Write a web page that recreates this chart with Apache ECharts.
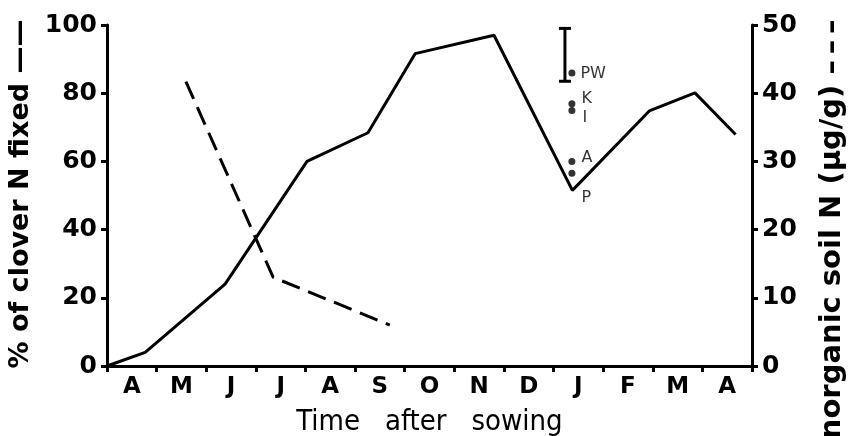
<!DOCTYPE html>
<html>
<head>
<meta charset="utf-8">
<script src="https://cdn.jsdelivr.net/npm/echarts@6/dist/echarts.min.js"></script>
<style>
  html, body { margin: 0; padding: 0; background: #fff; }
  #main { width: 850px; height: 436px; }
</style>
</head>
<body>
<div id="main"></div>
<script>
// months after sowing (April .. April)
var months = ['A', 'M', 'J', 'J', 'A', 'S', 'O', 'N', 'D', 'J', 'F', 'M', 'A'];

// % of clover N fixed (solid line), time in months from start of April
var cloverTime = [0, 0.77, 2.38, 4.03, 5.26, 6.21, 7.8, 9.38, 10.93, 11.85, 12.67];
var cloverFixed = [0, 4, 24, 60, 68.4, 91.6, 97, 51.5, 74.8, 80.1, 67.9];

// inorganic soil N, ug/g (dashed line, right axis)
var soilTime = [1.59, 3.35, 5.7];
var soilN = [41.7, 13.0, 6.0];

// single samples in January
var sampleTime = 9.37;
var sampleNames = ['PW', 'K', 'I', 'A', 'P'];
var sampleFixed = [85.9, 76.9, 74.9, 60.0, 56.5];

// error bar next to the samples
var errTime = 9.23;
var errLow = 83.5;
var errHigh = 99.0;

var ink = '#000';
var boldFont = "'DejaVu Sans', sans-serif";
var narrowFont = "'DejaVu Sans Condensed', 'Liberation Sans Narrow', sans-serif";

// label offsets for the sample points
var labelShift = {
  PW: [3, 1],
  K: [4, -5],
  I: [5, 7],
  A: [4, -4],
  P: [4, 25]
};

function pairs(xs, ys) {
  return xs.map(function (x, i) { return [x, ys[i]]; });
}

var chart = echarts.init(document.getElementById('main'), null, { renderer: 'canvas' });

var option = {
  backgroundColor: '#fff',
  animation: false,
  grid: { left: 107, right: 98, top: 25, bottom: 70, containLabel: false, outerBoundsMode: 'none' },
  xAxis: [{
    type: 'value',
    min: 0,
    max: 13,
    interval: 1,
    axisLine: { lineStyle: { color: ink, width: 3 } },
    axisTick: { show: true, length: 6, lineStyle: { color: ink, width: 3 } },
    axisLabel: { show: false },
    splitLine: { show: false }
  }, {
    type: 'category',
    position: 'bottom',
    data: months,
    boundaryGap: true,
    axisLine: { show: false },
    axisTick: { show: false },
    axisLabel: {
      margin: 10,
      color: ink,
      fontSize: 23,
      fontWeight: 'bold',
      fontFamily: boldFont
    },
    name: 'Time   after   sowing',
    nameLocation: 'middle',
    nameGap: 42,
    nameTextStyle: {
      color: ink,
      fontSize: 29,
      fontFamily: narrowFont
    }
  }],
  yAxis: [{
    type: 'value',
    min: 0,
    max: 100,
    interval: 20,
    axisLine: { show: true, lineStyle: { color: ink, width: 3 } },
    axisTick: { show: true, length: 6, lineStyle: { color: ink, width: 3 } },
    axisLabel: {
      margin: 10,
      color: ink,
      fontSize: 25,
      fontWeight: 'bold',
      fontFamily: boldFont
    },
    splitLine: { show: false }
  }, {
    type: 'value',
    min: 0,
    max: 50,
    interval: 10,
    position: 'right',
    axisLine: { show: true, lineStyle: { color: ink, width: 3 } },
    axisTick: { show: true, length: 6, lineStyle: { color: ink, width: 3 } },
    axisLabel: {
      margin: 10,
      color: ink,
      fontSize: 25,
      fontWeight: 'bold',
      fontFamily: boldFont
    },
    splitLine: { show: false }
  }],
  graphic: [{
    type: 'text',
    x: 21,
    y: 194,
    rotation: Math.PI / 2,
    style: {
      text: '% of clover N fixed \u2014\u2014',
      fill: ink,
      font: 'bold 27px ' + boldFont,
      textAlign: 'center',
      textVerticalAlign: 'middle'
    }
  }, {
    type: 'text',
    x: 832,
    y: 450,
    rotation: Math.PI / 2,
    style: {
      text: 'Inorganic soil N (\u00b5g/g) \u2013\u2009\u2013\u2009\u2013',
      fill: ink,
      font: 'bold 29px ' + boldFont,
      textAlign: 'left',
      textVerticalAlign: 'middle'
    }
  }],
  series: [{
    name: '% of clover N fixed',
    type: 'line',
    xAxisIndex: 0,
    yAxisIndex: 0,
    data: pairs(cloverTime, cloverFixed),
    symbol: 'none',
    lineStyle: { color: ink, width: 3 },
    z: 3
  }, {
    name: 'Inorganic soil N',
    type: 'line',
    xAxisIndex: 0,
    yAxisIndex: 1,
    data: pairs(soilTime, soilN),
    symbol: 'none',
    lineStyle: { color: ink, width: 3, type: [19, 9] },
    z: 3
  }, {
    name: 'samples',
    type: 'scatter',
    xAxisIndex: 0,
    yAxisIndex: 0,
    symbol: 'circle',
    symbolSize: 7,
    itemStyle: { color: ink },
    data: sampleNames.map(function (n, i) {
      return {
        name: n,
        value: [sampleTime, sampleFixed[i]],
        label: {
          show: true,
          position: 'right',
          distance: 2,
          offset: labelShift[n],
          formatter: '{b}',
          color: ink,
          fontSize: 16,
          fontFamily: boldFont
        }
      };
    }),
    z: 4
  }, {
    name: 'error',
    type: 'custom',
    xAxisIndex: 0,
    yAxisIndex: 0,
    data: [[errTime, errLow, errHigh]],
    encode: { x: 0, y: [1, 2] },
    renderItem: function (params, api) {
      var lo = api.coord([api.value(0), api.value(1)]);
      var hi = api.coord([api.value(0), api.value(2)]);
      var w = 6;
      var st = { stroke: ink, lineWidth: 3 };
      return {
        type: 'group',
        children: [
          { type: 'line', shape: { x1: lo[0], y1: lo[1], x2: hi[0], y2: hi[1] }, style: st },
          { type: 'line', shape: { x1: lo[0] - w, y1: lo[1], x2: lo[0] + w, y2: lo[1] }, style: st },
          { type: 'line', shape: { x1: hi[0] - w, y1: hi[1], x2: hi[0] + w, y2: hi[1] }, style: st }
        ]
      };
    },
    z: 4
  }]
};

chart.setOption(option);
</script>
</body>
</html>
